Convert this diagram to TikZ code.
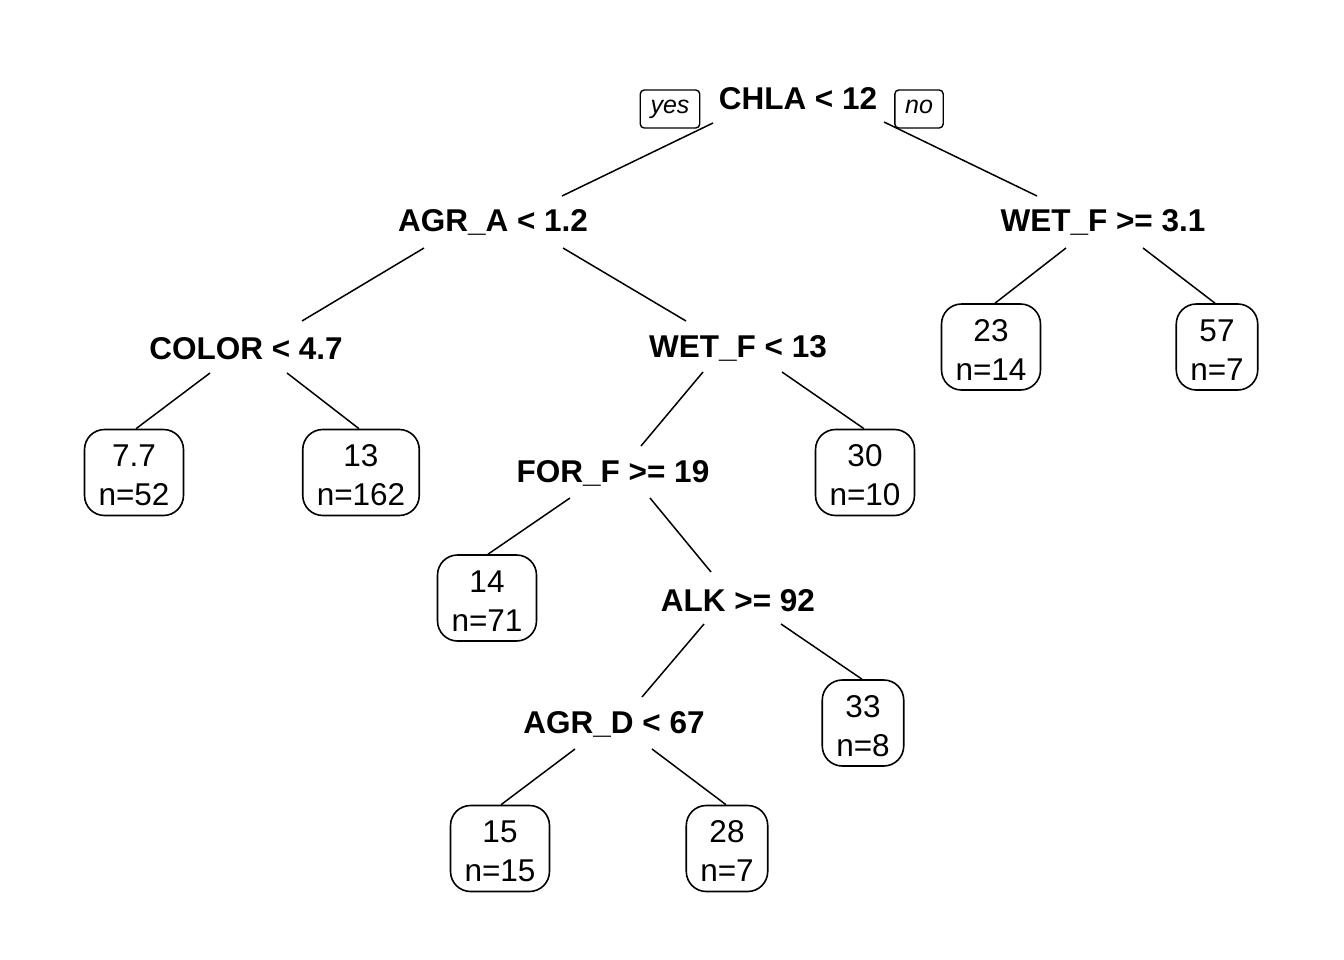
\documentclass[tikz,border=0pt]{standalone}
\usepackage{fontspec}
\setmainfont{Liberation Sans}
\usetikzlibrary{calc}
\newcommand{\leaftxt}[2]{\rule{0pt}{27.6pt}#1\\#2}
\begin{document}
\begin{tikzpicture}[x=1pt,y=-1pt,
  split/.style={font=\fontsize{31.5}{38}\selectfont\bfseries, anchor=base, inner sep=0pt},
  leaf/.style={draw, line width=1.6pt, rounded corners=20pt, align=center,
    font=\fontsize{31.5}{39}\selectfont, inner xsep=14pt, inner ysep=0pt, minimum height=86pt},
  yn/.style={draw, line width=1.4pt, rounded corners=4pt, font=\fontsize{25}{28}\selectfont\itshape,
    inner xsep=10.3pt, inner ysep=0pt, minimum height=38pt, text height=15pt, text depth=5pt},
  edge/.style={line width=1.5pt}]
\useasboundingbox[fill=white] (0,0) rectangle (1344,960);

% split nodes
\node[split] (root)  at (798,110) {CHLA < 12};
\node[split] (agra)  at (493,232) {AGR\_A < 1.2};
\node[split] (wetf1) at (1103,232) {WET\_F >= 3.1};
\node[split] (color) at (246,359) {COLOR < 4.7};
\node[split] (wetf2) at (738,357) {WET\_F < 13};
\node[split] (forf)  at (613,482) {FOR\_F >= 19};
\node[split] (alk)   at (738,611) {ALK >= 92};
\node[split] (agrd)  at (614,733) {AGR\_D < 67};

% yes / no
\node[yn] (yes) at (670,109) {yes};
\node[yn] (no)  at (919,109) {no};

% leaves
\node[leaf] (l77) at (134,472.5) {\leaftxt{7.7}{n=52}};
\node[leaf] (l13) at (361,472.5) {\leaftxt{13}{n=162}};
\node[leaf] (l23) at (991,347) {\leaftxt{23}{n=14}};
\node[leaf] (l57) at (1217,347) {\leaftxt{57}{n=7}};
\node[leaf] (l30) at (865,472.5) {\leaftxt{30}{n=10}};
\node[leaf] (l14) at (487,598) {\leaftxt{14}{n=71}};
\node[leaf] (l33) at (863,723) {\leaftxt{33}{n=8}};
\node[leaf] (l15) at (500,848.5) {\leaftxt{15}{n=15}};
\node[leaf] (l28) at (727,848.5) {\leaftxt{28}{n=7}};

% edges
\draw[edge] ($(root.base)+(-85,13)$) -- ($(agra.base)+(69,-36)$);
\draw[edge] ($(root.base)+(86,12)$) -- ($(wetf1.base)+(-66,-36)$);
\draw[edge] ($(agra.base)+(-69,16)$) -- ($(color.base)+(56,-38)$);
\draw[edge] ($(agra.base)+(70,16)$) -- ($(wetf2.base)+(-52,-36)$);
\draw[edge] ($(wetf1.base)+(-37,16)$) -- ($(l23.north)+(4,0)$);
\draw[edge] ($(wetf1.base)+(40,16)$) -- ($(l57.north)+(-2,0)$);
\draw[edge] ($(color.base)+(-36,14)$) -- ($(l77.north)+(2,0)$);
\draw[edge] ($(color.base)+(41,14)$) -- ($(l13.north)+(-2,0)$);
\draw[edge] ($(wetf2.base)+(-35,15)$) -- ($(forf.base)+(28,-36)$);
\draw[edge] ($(wetf2.base)+(44,15)$) -- ($(l30.north)+(-1,0)$);
\draw[edge] ($(forf.base)+(-43,16)$) -- ($(l14.north)+(1,0)$);
\draw[edge] ($(forf.base)+(37,16)$) -- ($(alk.base)+(-27,-39)$);
\draw[edge] ($(alk.base)+(-34,13)$) -- ($(agrd.base)+(28,-36)$);
\draw[edge] ($(alk.base)+(43,13)$) -- ($(l33.north)+(-1,0)$);
\draw[edge] ($(agrd.base)+(-39,16)$) -- ($(l15.north)+(1,0)$);
\draw[edge] ($(agrd.base)+(38,16)$) -- ($(l28.north)+(-1,0)$);
\end{tikzpicture}
\end{document}
